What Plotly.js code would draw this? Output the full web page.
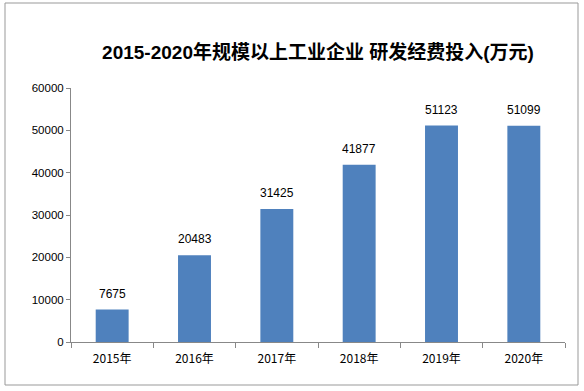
<!DOCTYPE html>
<html><head><meta charset="utf-8">
<script src="https://cdn.plot.ly/plotly-3.0.1.min.js"></script>
<style>html,body{margin:0;padding:0;background:#fff}#c{width:584px;height:391px}</style>
</head><body><div id="c"></div>
<script>
const categories = ["2015年","2016年","2017年","2018年","2019年","2020年"];
const values = [7675, 20483, 31425, 41877, 51123, 51099];
const yTicks = [0,10000,20000,30000,40000,50000,60000];

const trace = {
  type: "bar", x: categories, y: values,
  marker: {color: "#4F81BD"},
  width: 0.4, hoverinfo: "none"
};
const W=494, H=254;
const labels = categories.map((c, i) => ({
  x: c, y: values[i], xref: "x", yref: "y", text: String(values[i]),
  showarrow: false, yanchor: "bottom", yshift: 7,
  font: {family: "Liberation Sans, Arial", size: 12, color: "#000"}
}));
const layout = {
  width: 584, height: 391,
  margin: {l: 71, r: 19, t: 88, b: 49},
  paper_bgcolor: "#fff", plot_bgcolor: "#fff",
  showlegend: false,
  title: {text: "<b>2015-2020年规模以上工业企业 研发经费投入(万元)</b>",
    font: {family: "Liberation Sans, Noto Sans CJK SC", size: 19, color: "#000"},
    x: 0.5, xref: "paper", y: 1 - 52/391, yanchor: "middle"},
  xaxis: {type: "category", showline: true, linecolor: "#888", linewidth: 1,
    ticks: "outside", tickson: "boundaries", ticklen: 5, tickcolor: "#888",
    ticklabelstandoff: 6,
    tickfont: {family: "Noto Sans CJK SC", size: 12, color: "#000"},
    showgrid: false, zeroline: false, fixedrange: true},
  yaxis: {range: [0, 60000], tickvals: yTicks, ticktext: yTicks.map(String),
    showline: true, linecolor: "#888", linewidth: 1, ticks: "outside", ticklen: 4,
    tickcolor: "#888", showgrid: false, zeroline: false,
    tickfont: {family: "Liberation Sans, Arial", size: 11.5, color: "#000"}, fixedrange: true},
  annotations: labels,
  shapes: [{type: "rect", xref: "paper", yref: "paper",
    x0: (5-71)/W, x1: (578-71)/W, y0: (342-385)/H, y1: (342-3)/H,
    line: {color: "#999", width: 1}, fillcolor: "rgba(0,0,0,0)", layer: "below"}]
};
Plotly.newPlot("c", [trace], layout, {displayModeBar: false, staticPlot: true});
</script></body></html>
